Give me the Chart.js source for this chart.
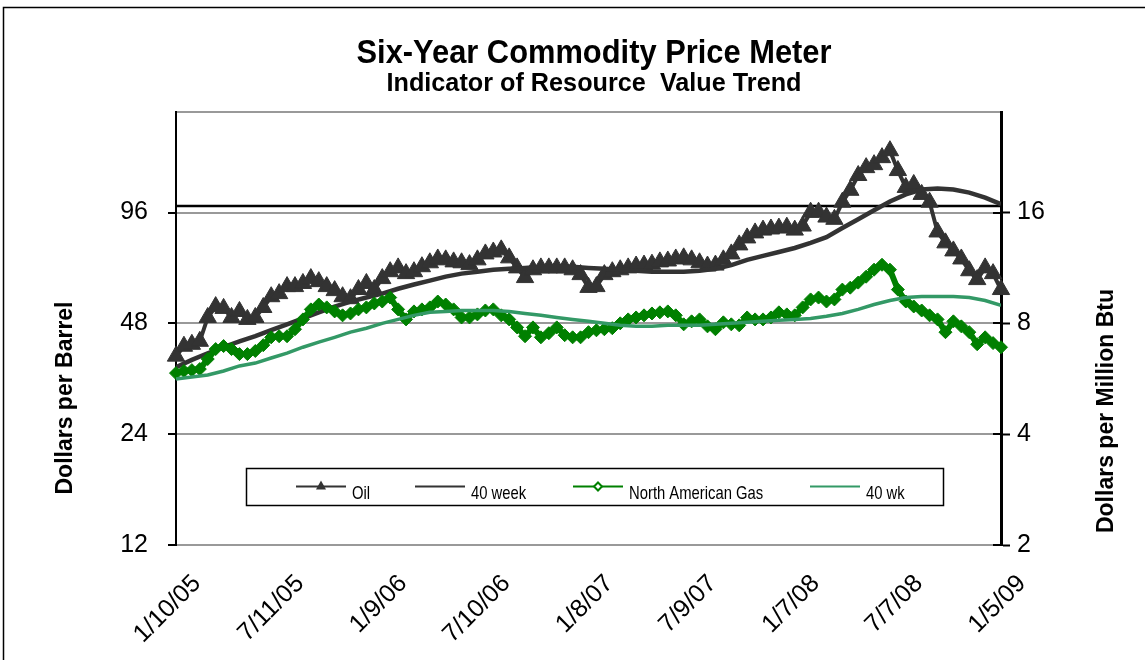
<!DOCTYPE html>
<html lang="en">
<head>
<meta charset="UTF-8">
<title>Six-Year Commodity Price Meter</title>
<script src="https://cdn.jsdelivr.net/npm/chart.js"></script>
<style>
  html, body { margin: 0; padding: 0; background: #fff; }
  #wrap { position: relative; width: 1145px; height: 660px; }
</style>
</head>
<body>
<div id="wrap"><canvas id="meter" width="1145" height="660"></canvas></div>
<script>
  // x axis is in weeks from 1/10/05 (0) to 1/5/09 (208)
  const dateLabels = ['1/10/05', '7/11/05', '1/9/06', '7/10/06', '1/8/07', '7/9/07', '1/7/08', '7/7/08', '1/5/09'];
  const leftTicks = [12, 24, 48, 96];
  const rightTicks = [2, 4, 8, 16];
  const parLevel = 100;

  // oil, $/barrel, every 2nd week
  const oilPrice = [
    39.1, 41.6, 42.1, 42.9, 49.8, 53.3, 52.7, 49.8, 51.7, 49.2,
    49.8, 53.0, 56.7, 57.8, 60.4, 60.4, 61.6, 63.5, 62.3, 60.4,
    58.9, 56.7, 56.0, 59.3, 61.6, 59.3, 63.5, 66.3, 67.9, 65.5,
    66.3, 68.4, 70.1, 71.8, 71.4, 70.5, 70.1, 69.3, 71.4, 74.1,
    75.0, 76.0, 72.3, 67.9, 63.9, 67.1, 67.9, 67.9, 67.9, 67.9,
    67.1, 65.1, 60.1, 60.4, 65.1, 66.3, 67.1, 67.9, 68.7, 69.1,
    69.5, 70.5, 70.9, 71.8, 72.3, 71.4, 70.1, 68.7, 69.1, 71.4,
    74.1, 78.4, 81.9, 84.5, 86.0, 86.6, 87.1, 87.6, 86.0, 88.2,
    96.2, 96.2, 93.3, 92.0, 102.4, 110.3, 121.0, 127.1, 129.5, 135.3,
    141.3, 124.8, 112.3, 114.4, 107.5, 102.4, 85.0, 79.4, 75.5, 71.8,
    66.7, 63.1, 67.9, 65.5, 59.3
  ];
  // oil 40 week average, every 4th week
  const oilAvg40 = [
    36.5, 38.2, 39.8, 41.4, 42.9, 44.3, 46.0, 47.7, 49.5, 51.4,
    53.3, 55.0, 56.4, 57.8, 59.6, 61.2, 62.7, 64.3, 65.5, 66.3,
    67.1, 67.5, 67.9, 68.4, 68.4, 68.4, 67.9, 67.5, 67.1, 66.7,
    66.3, 66.3, 66.3, 66.7, 67.5, 69.1, 71.4, 73.2, 75.0, 76.9,
    79.4, 82.3, 87.1, 92.0, 97.4, 102.9, 107.5, 110.8, 111.5, 110.8,
    108.7, 105.4, 101.1
  ];
  // north american gas, $/million Btu, every 2nd week
  const gasPrice = [
    5.86, 5.94, 5.97, 6.01, 6.40, 6.81, 6.94, 6.81, 6.60, 6.60,
    6.73, 6.98, 7.33, 7.38, 7.38, 7.71, 8.20, 8.73, 9.00, 8.84,
    8.62, 8.41, 8.51, 8.73, 8.84, 9.06, 9.17, 9.40, 8.73, 8.20,
    8.62, 8.73, 8.84, 9.17, 9.00, 8.73, 8.30, 8.30, 8.46, 8.67,
    8.73, 8.41, 8.20, 7.80, 7.38, 7.80, 7.33, 7.52, 7.80, 7.43,
    7.33, 7.33, 7.57, 7.66, 7.71, 7.76, 8.00, 8.20, 8.30, 8.41,
    8.51, 8.57, 8.62, 8.41, 7.95, 8.10, 8.20, 7.85, 7.71, 8.05,
    7.95, 7.90, 8.30, 8.20, 8.20, 8.30, 8.57, 8.46, 8.41, 8.84,
    9.29, 9.40, 9.17, 9.29, 9.88, 10.00, 10.32, 10.71, 11.19, 11.54,
    11.19, 9.88, 9.17, 8.89, 8.67, 8.41, 8.20, 7.57, 8.10, 7.85,
    7.57, 7.02, 7.33, 7.07, 6.89
  ];
  // gas 40 week average, every 4th week
  const gasAvg40 = [
    5.65, 5.72, 5.79, 5.94, 6.13, 6.24, 6.44, 6.64, 6.89, 7.11,
    7.33, 7.57, 7.76, 8.00, 8.20, 8.41, 8.57, 8.62, 8.67, 8.67,
    8.67, 8.62, 8.51, 8.41, 8.30, 8.20, 8.10, 8.00, 7.90, 7.85,
    7.85, 7.90, 7.90, 7.90, 7.95, 8.00, 8.05, 8.10, 8.15, 8.20,
    8.25, 8.36, 8.51, 8.73, 9.00, 9.23, 9.40, 9.46, 9.46, 9.46,
    9.40, 9.23, 8.95
  ];

  const FONT = '"Liberation Sans", Arial, sans-serif';
  Chart.defaults.font.family = FONT;
  Chart.defaults.color = '#000';

  function toPoints(values, step) {
    return values.map((v, i) => ({ x: i * step, y: v }));
  }

  // text squeezed/stretched to a given width, like the original export
  function fitText(ctx, txt, x, y, font, width, align) {
    ctx.save();
    ctx.font = font;
    const w = ctx.measureText(txt).width;
    const sx = width ? width / w : 1;
    ctx.translate(x, y);
    ctx.scale(sx, 1);
    ctx.textAlign = align || 'center';
    ctx.textBaseline = 'alphabetic';
    ctx.fillText(txt, 0, 0);
    ctx.restore();
  }

  const decor = {
    id: 'decor',
    beforeDraw(chart) {
      const ctx = chart.ctx;
      ctx.save();
      ctx.fillStyle = '#fff';
      ctx.fillRect(0, 0, chart.width, chart.height);
      ctx.strokeStyle = '#000';
      ctx.lineWidth = 1.5;
      ctx.strokeRect(3.5, 7.5, 1170, 700);
      ctx.restore();
    },
    afterDraw(chart) {
      const ctx = chart.ctx;
      ctx.save();
      ctx.fillStyle = '#000';
      fitText(ctx, 'Six-Year Commodity Price Meter', 594, 63, 'bold 33px ' + FONT, 475);
      fitText(ctx, 'Indicator of Resource  Value Trend', 594, 91, 'bold 25px ' + FONT, 415);

      // axis titles
      ctx.font = 'bold 23px ' + FONT;
      ctx.textAlign = 'center';
      ctx.textBaseline = 'middle';
      ctx.save();
      ctx.translate(66, 398);
      ctx.rotate(-Math.PI / 2);
      ctx.fillText('Dollars per Barrel', 0, 0);
      ctx.restore();
      ctx.save();
      ctx.translate(1107, 411);
      ctx.rotate(-Math.PI / 2);
      ctx.fillText('Dollars per Million Btu', 0, 0);
      ctx.restore();

      // right axis ticks also point inward
      const y2 = chart.scales.y2;
      ctx.strokeStyle = '#000';
      ctx.lineWidth = 2;
      rightTicks.forEach(v => {
        const py = Math.round(y2.getPixelForValue(v));
        ctx.beginPath();
        ctx.moveTo(y2.left - 8, py);
        ctx.lineTo(y2.left, py);
        ctx.stroke();
      });

      // legend box inside the plot
      const top = 468, h = 37, cy = top + h / 2;
      ctx.fillStyle = '#fff';
      ctx.fillRect(246, top, 698, h);
      ctx.strokeStyle = '#000';
      ctx.lineWidth = 1.5;
      ctx.strokeRect(246.5, top + 0.5, 697, h);

      const items = [
        { label: 'Oil', color: '#333333', x: 296, mark: 'tri' },
        { label: '40 week', color: '#333333', x: 415 },
        { label: 'North American Gas', color: '#008000', x: 573, mark: 'dia' },
        { label: '40 wk', color: '#339966', x: 810 }
      ];
      items.forEach(it => {
        ctx.strokeStyle = it.color;
        ctx.lineWidth = 2;
        ctx.beginPath();
        ctx.moveTo(it.x, cy);
        ctx.lineTo(it.x + 50, cy);
        ctx.stroke();
        const mx = it.x + 25;
        if (it.mark === 'tri') {
          ctx.fillStyle = it.color;
          ctx.beginPath();
          ctx.moveTo(mx, cy - 6);
          ctx.lineTo(mx + 5, cy + 3);
          ctx.lineTo(mx - 5, cy + 3);
          ctx.closePath();
          ctx.fill();
        } else if (it.mark === 'dia') {
          ctx.fillStyle = '#fff';
          ctx.beginPath();
          ctx.moveTo(mx, cy - 4);
          ctx.lineTo(mx + 4, cy);
          ctx.lineTo(mx, cy + 4);
          ctx.lineTo(mx - 4, cy);
          ctx.closePath();
          ctx.fill();
          ctx.stroke();
        }
        ctx.fillStyle = '#000';
        ctx.save();
        ctx.font = '19px ' + FONT;
        ctx.translate(it.x + 56, cy + 7);
        ctx.scale(0.78, 1);
        ctx.textAlign = 'left';
        ctx.fillText(it.label, 0, 0);
        ctx.restore();
      });
      ctx.restore();
    }
  };

  const ctx = document.getElementById('meter').getContext('2d');
  new Chart(ctx, {
    type: 'line',
    data: {
      datasets: [
        {
          label: 'Oil',
          data: toPoints(oilPrice, 2),
          yAxisID: 'y',
          borderColor: '#333333',
          borderWidth: 4,
          pointStyle: 'triangle',
          pointRadius: 10,
          pointBackgroundColor: '#333333',
          pointBorderColor: '#333333',
          pointBorderWidth: 1,
          clip: false,
          order: 4
        },
        {
          label: '40 week',
          data: toPoints(oilAvg40, 4),
          yAxisID: 'y',
          borderColor: '#333333',
          borderWidth: 4.5,
          pointRadius: 0,
          order: 3
        },
        {
          label: 'North American Gas',
          data: toPoints(gasPrice, 2),
          yAxisID: 'y2',
          borderColor: '#008000',
          borderWidth: 6,
          pointStyle: 'rectRot',
          pointRadius: 6.5,
          pointBackgroundColor: '#008000',
          pointBorderColor: '#008000',
          pointBorderWidth: 1,
          clip: false,
          order: 2
        },
        {
          label: '40 wk',
          data: toPoints(gasAvg40, 4),
          yAxisID: 'y2',
          borderColor: '#339966',
          borderWidth: 3.5,
          pointRadius: 0,
          order: 1
        },
        {
          label: 'par',
          data: [{ x: 0, y: parLevel }, { x: 208, y: parLevel }],
          yAxisID: 'y',
          borderColor: '#000',
          borderWidth: 2.5,
          pointRadius: 0,
          order: 5
        }
      ]
    },
    options: {
      responsive: false,
      animation: false,
      events: [],
      layout: { padding: { top: 112, left: 0, right: 0, bottom: 0 } },
      plugins: {
        legend: { display: false },
        title: { display: false },
        tooltip: { enabled: false }
      },
      scales: {
        x: {
          type: 'linear',
          min: 0,
          max: 208,
          afterFit: s => { s.height = 115; },
          afterBuildTicks: s => { s.ticks = dateLabels.map((d, i) => ({ value: i * 26 })); },
          grid: { display: false },
          border: { display: false },
          ticks: {
            autoSkip: false,
            minRotation: 45,
            maxRotation: 45,
            labelOffset: 21,
            padding: 16,
            font: { size: 25 },
            callback: v => dateLabels[Math.round(v / 26)]
          }
        },
        y: {
          type: 'logarithmic',
          position: 'left',
          min: 12,
          max: 180,
          afterFit: s => { s.width = 176; },
          afterBuildTicks: s => { s.ticks = leftTicks.concat([180]).map(v => ({ value: v })); },
          grid: {
            color: '#999999',
            lineWidth: 2,
            tickLength: 8,
            tickWidth: 2,
            tickColor: c => (c.tick && c.tick.value === 180) ? 'rgba(0,0,0,0)' : '#000'
          },
          border: { color: '#000', width: 2 },
          ticks: {
            padding: 20,
            font: { size: 25 },
            callback: v => leftTicks.includes(v) ? String(v) : ''
          }
        },
        y2: {
          type: 'logarithmic',
          position: 'right',
          min: 2,
          max: 30,
          afterFit: s => { s.width = 144; },
          afterBuildTicks: s => { s.ticks = rightTicks.map(v => ({ value: v })); },
          grid: { drawOnChartArea: false, tickLength: 9, tickWidth: 2, tickColor: '#000' },
          border: { color: '#000', width: 3 },
          ticks: {
            padding: 7,
            font: { size: 25 },
            callback: v => String(v)
          }
        }
      }
    },
    plugins: [decor]
  });
</script>
</body>
</html>
